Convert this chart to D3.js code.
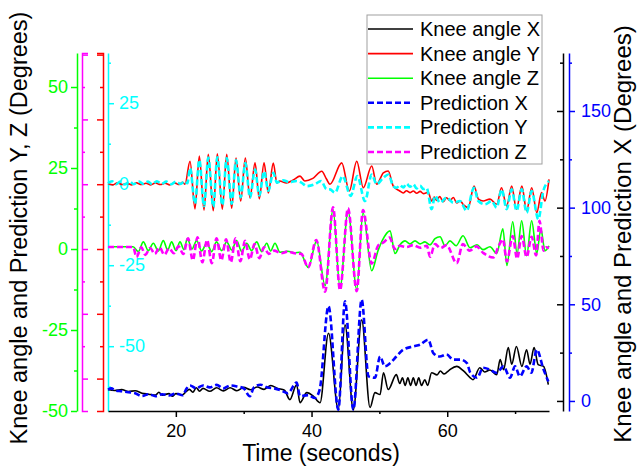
<!DOCTYPE html>
<html>
<head>
<meta charset="utf-8">
<script src="https://cdn.jsdelivr.net/npm/d3@7"></script>
<style>
  body { margin: 0; background: #fff; }
  svg { display: block; font-family: "Liberation Sans", Arial, sans-serif; }
</style>
</head>
<body>
<div id="chart"></div>
<script>
// [time (s), angle (deg)]
const kneeX = [
  [10, 5.9], [11, 5.4], [12, 5.9], [13, 4.9], [14, 5.3], [15, 4.0], [16, 3.5], [17, 3.0], [17.5, 4.5], [18, 3.0],
  [19, 3.8], [19.5, 2.5], [20, 3.8], [21, 3.2], [21.5, 4.8], [22, 6.0], [22.5, 4.5], [23, 6.8], [23.5, 5.0], [24, 6.5],
  [25, 5.0], [26, 6.8], [27, 5.2], [28, 6.8], [29, 5.3], [30, 7.0], [31, 5.8], [32, 7.2], [33, 6.0], [34, 8.0],
  [35, 6.5], [36, 5.5], [36.8, 0.7], [37.8, 8.4], [38.3, -0.9], [39.3, 4.3], [40.3, 2.4], [41.25, -0.9], [42.5, 35.0],
  [43.95, -4.5], [44.93, 39.4], [46.16, -4.5], [47.39, 42.0], [48.62, -3.4], [49.35, 4.3], [50.1, 3.3], [50.6, 14.6],
  [51.3, 5.9], [52.5, 13.6], [53.0, 9.0], [53.4, 12.0], [53.8, 8.0], [54.2, 12.0], [54.6, 8.0], [55.0, 12.0], [55.4, 8.0],
  [55.8, 12.0], [56.2, 8.0], [56.7, 11.0], [57.1, 8.0], [57.7, 14.6], [58.5, 13.5], [59.0, 15.5], [59.5, 14.0],
  [60.0, 15.0], [60.5, 16.5], [61.4, 17.9], [62.4, 15.5], [63.4, 12.0], [63.8, 11.0], [64.8, 17.2], [65.5, 15.0],
  [66.3, 16.0], [67.3, 13.6], [67.8, 21.4], [68.3, 16.2], [69.0, 27.6], [69.5, 19.0], [70.2, 28.2], [71.0, 17.9],
  [71.7, 26.5], [72.2, 19.0], [72.8, 27.6], [73.4, 18.8], [74.2, 17.9], [74.9, 8.4]
];
const kneeY = [
  [10, 20.2], [10.7, 19.8], [11.4, 20.4], [12.1, 19.9], [12.8, 20.3], [13.5, 19.8], [14.2, 20.4], [14.9, 19.9],
  [15.6, 20.3], [16.3, 19.8], [17.0, 20.4], [17.7, 19.9], [18.4, 20.3], [19.1, 19.8], [19.8, 20.4], [20.5, 19.9],
  [21.0, 20.6], [21.35, 20.0], [22.09, 27.1], [22.82, 12.4], [23.46, 28.7], [24.15, 12.0], [24.78, 29.2], [25.52, 11.8],
  [26.11, 29.4], [26.85, 12.3], [27.5, 29.2], [28.23, 12.6], [28.87, 28.1], [29.56, 14.8], [30.24, 28.1], [30.93, 15.8],
  [31.67, 26.6], [32.3, 15.5], [33.0, 26.6], [33.63, 17.3], [34.36, 26.5], [34.9, 20.4], [35.3, 21.0], [36.3, 20.4],
  [37.3, 21.3], [38.3, 22.5], [39.0, 21.0], [40.2, 21.8], [41.5, 24.0], [42.2, 21.6], [42.72, 20.0], [44.45, 26.6],
  [45.57, 17.9], [46.66, 27.1], [47.63, 18.9], [48.87, 25.6], [49.6, 20.0], [50.58, 23.5], [51.3, 24.1], [52.05, 19.4],
  [53.0, 17.9], [53.5, 17.3], [54.0, 18.0], [54.5, 17.4], [55.0, 17.9], [55.5, 17.2], [56.0, 17.8], [56.5, 17.1],
  [57.2, 17.5], [57.7, 14.8], [58.1, 16.0], [58.45, 15.0], [58.9, 16.2], [59.4, 14.6], [59.9, 15.8], [60.4, 15.0],
  [60.9, 15.9], [61.4, 14.2], [61.9, 14.9], [62.4, 13.6], [63.1, 12.8], [63.95, 19.4], [64.6, 15.4], [65.3, 14.8],
  [66.3, 15.4], [67.3, 13.8], [68.0, 18.9], [68.75, 13.3], [69.5, 19.4], [70.2, 12.3], [71.0, 19.4], [71.7, 11.8],
  [72.45, 18.9], [73.2, 11.2], [73.9, 17.4], [74.4, 14.8], [75.0, 21.5]
];
const kneeZ = [
  [10, 0.7], [13.7, 0.7], [14.47, -0.8], [15.21, 2.2], [15.94, -0.5], [16.68, 1.8], [17.42, -0.6], [18.15, 2.6],
  [18.79, -0.3], [19.38, 2.2], [20.02, -0.5], [20.61, 2.2], [21.2, -0.2], [21.69, 3.2], [22.38, 0.0], [23.07, 2.6],
  [23.8, -0.6], [24.54, 1.8], [25.28, -0.8], [26.0, 2.2], [26.75, -0.5], [27.49, 2.2], [28.23, -0.3], [28.96, 2.6],
  [29.7, -0.8], [30.44, 1.8], [31.17, -0.5], [31.91, 2.2], [32.65, -0.8], [33.39, 1.8], [33.97, -0.6], [34.61, 1.8],
  [35.35, -1.0], [36.5, -0.7], [37.5, -1.2], [38.3, -1.0], [39.53, -5.7], [40.75, 2.5], [42.0, -11.3], [43.17, 12.1],
  [44.2, -11.9], [45.38, 11.8], [46.66, -12.5], [47.59, 11.2], [48.87, -6.7], [49.8, -0.5], [50.4, 2.5], [51.57, 5.6],
  [52.3, -1.4], [53.04, 1.3], [53.78, 2.5], [54.5, 1.6], [55.25, 2.5], [56.0, 1.6], [56.7, 2.2], [57.46, 1.3],
  [58.2, 3.2], [58.94, 3.8], [59.67, 1.0], [60.4, 2.5], [61.3, 1.0], [62.33, 4.1], [63.36, 0.4], [64.39, 1.3],
  [65.27, -0.2], [66.3, 0.7], [67.3, -1.4], [68.2, 6.2], [68.8, -5.1], [69.65, 8.4], [70.3, -1.4], [70.97, 8.7],
  [71.7, -2.1], [72.44, 8.7], [73.2, -1.4], [73.8, 6.2], [74.4, -0.5], [75, 1.0]
];
const predX = [
  [10, 5.9], [10.5, 6.5], [11, 5.5], [12, 5.0], [13, 4.5], [14, 4.0], [15, 2.5], [16, 3.5], [17, 2.5], [18, 3.5],
  [19, 2.8], [20, 3.8], [21, 3.0], [21.6, 6.5], [22.1, 8.0], [23, 6.5], [24, 8.0], [25, 7.0], [26, 8.3], [27, 6.5],
  [28, 8.0], [29, 7.5], [30, 6.5], [30.9, 2.4], [31.5, 7.0], [32.5, 8.4], [33.5, 7.0], [34.5, 6.5], [35.5, 5.5],
  [36.5, 4.0], [37.8, 9.5], [38.3, 2.5], [39.5, 3.0], [40.5, 1.5], [41.2, 5.9], [42.5, 49.0], [43.95, -4.5],
  [44.93, 51.5], [46.16, -4.5], [47.39, 52.4], [48.4, 12.7], [49.35, 12.0], [50.1, 23.0], [50.8, 17.9], [51.6, 19.6],
  [52.5, 23.0], [53.5, 26.5], [55.0, 28.2], [56.0, 29.1], [57.2, 31.7], [57.95, 24.8], [58.9, 23.0], [59.9, 24.0],
  [60.9, 21.4], [61.9, 21.4], [62.9, 19.6], [63.4, 14.6], [64.4, 12.0], [65.3, 17.2], [66.3, 16.2], [67.3, 14.6],
  [68.3, 17.9], [69.25, 12.0], [70.0, 17.9], [70.7, 12.7], [71.7, 17.9], [72.4, 14.6], [73.2, 26.5], [74.2, 16.2],
  [74.9, 10.1]
];
const predY = [
  [10, 0.3], [10.6, 0.9], [11.2, 0.0], [11.8, 0.8], [12.5, -0.1], [13.2, 0.8], [13.8, 0.0], [14.5, 0.9], [15.2, 0.1],
  [15.9, 0.8], [16.5, 0.0], [17.2, 0.9], [17.9, 0.1], [18.6, 0.8], [19.3, 0.0], [20.0, 0.8], [20.7, 0.1], [21.3, 0.9],
  [21.7, 0.3], [22.09, 5.0], [22.82, -6.0], [23.46, 7.5], [24.15, -6.8], [24.78, 8.2], [25.52, -7.0], [26.11, 8.3],
  [26.85, -6.5], [27.5, 8.1], [28.23, -6.0], [28.87, 7.4], [29.56, -4.0], [30.24, 6.5], [30.93, -4.1], [31.67, 4.5],
  [32.3, -3.5], [33.0, 4.0], [33.63, -2.0], [34.36, 3.5], [34.9, 0.5], [35.8, 1.2], [36.8, 0.6], [37.8, 1.0],
  [38.5, 0.5], [39.3, -0.6], [40.5, 0.0], [41.4, 1.0], [42.2, -1.5], [42.72, -1.6], [43.46, -2.6], [44.59, 2.5],
  [45.77, -3.6], [46.75, 2.5], [47.88, -5.2], [48.86, 3.0], [49.6, 0.0], [50.58, 2.0], [51.32, 3.0], [52.05, -0.6],
  [52.55, -1.1], [53.0, -0.3], [53.53, -1.0], [54.0, 0.2], [54.51, -0.8], [55.0, 0.0], [55.49, -1.3], [56.0, -0.5],
  [56.5, -1.5], [56.97, -1.2], [57.7, -7.7], [58.2, -3.6], [58.93, -5.7], [59.92, -4.1], [60.9, -5.7], [61.88, -5.2],
  [62.86, -8.2], [63.94, -1.1], [64.58, -5.2], [65.57, -6.2], [66.55, -5.2], [67.29, -7.2], [68.02, -1.6],
  [68.76, -7.7], [69.5, -1.6], [70.23, -8.2], [70.97, -1.6], [71.71, -8.8], [72.44, -2.1], [73.43, -10.8],
  [74.16, -2.1], [75.0, 1.0]
];
const predZ = [
  [10, 0.6], [13.7, 0.6], [14.2, -2.5], [14.9, 0.5], [15.5, -1.8], [16.2, 0.3], [16.9, -1.5], [17.6, 0.5], [18.3, -1.8],
  [19.0, 0.2], [19.7, -1.3], [20.4, 0.8], [21.1, -1.5], [21.8, 3.3], [22.5, -3.5], [23.2, 3.6], [23.9, -4.1],
  [24.6, 2.8], [25.3, -4.4], [26.0, 3.3], [26.7, -3.5], [27.4, 3.0], [28.1, -4.1], [28.8, 3.3], [29.5, -3.8],
  [30.2, 2.5], [30.9, -3.2], [31.6, 1.5], [32.3, -2.8], [33.0, 0.5], [33.7, -1.5], [34.5, -0.5], [35.5, -1.3],
  [36.5, -0.8], [37.5, -1.3], [38.5, -1.5], [39.5, -5.7], [40.7, 2.8], [42.0, -13.2], [43.17, 12.9], [44.2, -12.7],
  [45.38, 12.6], [46.66, -13.0], [47.59, 12.0], [48.87, -4.5], [49.8, 1.0], [50.6, 2.0], [51.5, 3.5], [52.3, 0.0],
  [53.0, 1.0], [54, 0.6], [55, 1.2], [56, 0.4], [57.0, 1.0], [57.46, -2.4], [58.2, 1.5], [59.0, 0.3], [59.9, 1.2],
  [61.4, -4.4], [62.3, 1.5], [63.3, -0.5], [64.3, 0.8], [65.3, -1.2], [66.8, -2.6], [67.6, 1.0], [68.2, 3.0],
  [68.8, -3.8], [69.65, 4.0], [70.3, -3.0], [70.97, 4.0], [71.7, -2.5], [72.44, 3.8], [73.1, -2.0], [73.6, 8.7],
  [74.2, -0.5], [74.6, 0.5], [75, 0.3]
];

const legendLabels = ["Knee angle X", "Knee angle Y", "Knee angle Z", "Prediction X", "Prediction Y", "Prediction Z"];
const xTicks = [20, 40, 60], xMinor = [30, 50, 70];
const zTicks = [-50, -25, 0, 25, 50], zMinor = [-37.5, -12.5, 12.5, 37.5];
const bracketTicks = [-40, -20, 0, 20, 40, 60], bracketMinor = [-30, -10, 10, 30, 50];
const pyTicks = [-50, -25, 0, 25], pyMinor = [-62.5, -37.5, -12.5, 12.5, 37.5];
const xAngTicks = [0, 50, 100, 150], xAngMinor = [25, 75, 125, 175];

const W = 641, H = 467;
const L = 108, R = 549, T = 53, B = 411;
const FONT = '"Liberation Sans", Arial, sans-serif';

const svg = d3.select("#chart").append("svg").attr("width", W).attr("height", H);

const x = d3.scaleLinear().domain([10, 75]).range([L, R]);
const yZ = d3.scaleLinear().domain([-50, 60.5]).range([B, T]);    // green + magenta
const yKY = d3.scaleLinear().domain([-50, 60.5]).range([B, T]);   // red
const yPY = d3.scaleLinear().domain([-70, 40.5]).range([B, T]);   // cyan
const yX = d3.scaleLinear().domain([-5.2, 180]).range([B, T]);    // black + blue

function yAxis(xPos, scale, side, color, major, minor, labels, pad, outer) {
  const make = side == "left" ? d3.axisLeft : d3.axisRight;
  const g = svg.append("g").attr("transform", "translate(" + xPos + ",0)");
  g.append("g")
    .call(make(scale).tickValues(minor).tickSize(3).tickFormat(""))
    .call(a => a.select(".domain").remove());
  g.append("g")
    .call(make(scale).tickValues(major).tickSize(6).tickSizeOuter(outer).tickPadding(pad)
      .tickFormat(labels ? (d => String(d)) : ""));
  g.selectAll("line,path").attr("stroke", color).attr("stroke-width", 1.5);
  g.selectAll("text").attr("fill", color).style("font-size", "18px").style("font-family", FONT);
}

// left stacked axes
yAxis(77, yZ, "left", "#00ff00", zTicks, zMinor, true, 3, 0);
yAxis(82, yZ, "right", "#ff00ff", bracketTicks, bracketMinor, false, 3, 6);
yAxis(103, yKY, "left", "#ff0000", bracketTicks, bracketMinor, false, 3, 6);
yAxis(108, yPY, "right", "#00ffff", pyTicks, pyMinor, true, 5, 0);
// right axes
yAxis(563, yX, "left", "#000000", xAngTicks, xAngMinor, false, 3, 0);
yAxis(569, yX, "right", "#0000ff", xAngTicks, xAngMinor, true, 6, 0);

// x axis
const gx = svg.append("g").attr("transform", "translate(0," + B + ")");
gx.append("g").call(d3.axisBottom(x).tickValues(xMinor).tickSize(3).tickFormat(""))
  .call(a => a.select(".domain").remove());
gx.append("g").call(d3.axisBottom(x).tickValues(xTicks).tickSize(6).tickSizeOuter(0).tickPadding(7));
gx.selectAll("line,path").attr("stroke", "#000").attr("stroke-width", 1.5);
gx.selectAll("text").attr("fill", "#000").style("font-size", "18px").style("font-family", FONT);

// series
const series = [
  { data: kneeX, y: yX, color: "#000000", dash: null },
  { data: kneeY, y: yKY, color: "#ff0000", dash: null },
  { data: kneeZ, y: yZ, color: "#00ff00", dash: null },
  { data: predX, y: yX, color: "#0000ff", dash: "6,3" },
  { data: predY, y: yPY, color: "#00ffff", dash: "6,3" },
  { data: predZ, y: yZ, color: "#ff00ff", dash: "6,3" }
];
series.forEach(function (s) {
  const line = d3.line().curve(d3.curveMonotoneX).x(d => x(d[0])).y(d => s.y(d[1]));
  svg.append("path")
    .datum(s.data)
    .attr("d", line)
    .attr("fill", "none")
    .attr("stroke", s.color)
    .attr("stroke-width", s.dash ? 2.6 : 1.6)
    .attr("stroke-dasharray", s.dash)
    .attr("stroke-linejoin", "round");
});

// axis titles
svg.append("text")
  .attr("transform", "translate(27,228) rotate(-90)")
  .attr("text-anchor", "middle")
  .style("font-family", FONT).style("font-size", "23.5px")
  .text("Knee angle and Prediction Y, Z (Degrees)");
svg.append("text")
  .attr("transform", "translate(631,234) rotate(-90)")
  .attr("text-anchor", "middle")
  .style("font-family", FONT).style("font-size", "24px")
  .text("Knee angle and Prediction X (Degrees)");
svg.append("text")
  .attr("x", 321).attr("y", 461)
  .attr("text-anchor", "middle")
  .style("font-family", FONT).style("font-size", "23px")
  .text("Time (seconds)");

// legend
const lg = svg.append("g").attr("transform", "translate(367,15)");
lg.append("rect").attr("width", 175).attr("height", 149)
  .attr("fill", "#fff").attr("stroke", "#a0a0a0").attr("stroke-width", 1);
series.forEach(function (s, i) {
  const yy = 14 + i * 24.6;
  lg.append("line").attr("x1", 1).attr("x2", 46).attr("y1", yy).attr("y2", yy)
    .attr("stroke", s.color).attr("stroke-width", s.dash ? 2.6 : 1.6)
    .attr("stroke-dasharray", s.dash);
  lg.append("text").attr("x", 53).attr("y", yy).attr("dy", "0.35em")
    .style("font-family", FONT).style("font-size", "20px")
    .text(legendLabels[i]);
});
</script>
</body>
</html>
